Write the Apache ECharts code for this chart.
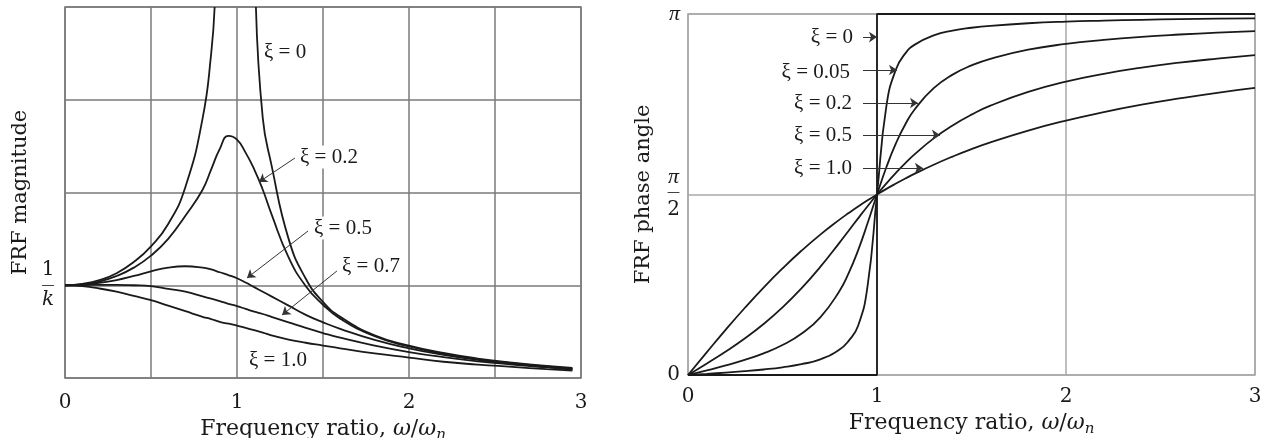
<!DOCTYPE html>
<html>
<head>
<meta charset="utf-8">
<script src="https://cdn.jsdelivr.net/npm/echarts@6/dist/echarts.min.js"></script>
<style>
  html, body { margin: 0; background: #fff; }
  #chart { width: 1272px; height: 438px; }
</style>
</head>
<body>
<div id="chart"></div>
<script>
// frequency ratio samples (omega / omega_n) for the magnitude plot
const ratioMag = [0, 0.1, 0.2, 0.3, 0.4, 0.5, 0.6, 0.7, 0.8, 0.85, 0.9, 0.95, 1.0, 1.05, 1.1, 1.15, 1.2, 1.3, 1.4, 1.5, 1.6, 1.8, 2.0, 2.2, 2.4, 2.6, 2.8, 2.95]
// |H| * k
const magZeta02 = [1, 1.01, 1.04, 1.1, 1.19, 1.32, 1.5, 1.75, 2.03, 2.25, 2.47, 2.61, 2.57, 2.43, 2.25, 2.03, 1.77, 1.3, 0.99, 0.79, 0.64, 0.45, 0.34, 0.26, 0.2, 0.16, 0.125, 0.1]
const magZeta05 = [1, 1.005, 1.025, 1.055, 1.1, 1.15, 1.19, 1.205, 1.19, 1.17, 1.14, 1.11, 1.075, 1.03, 0.98, 0.93, 0.88, 0.78, 0.68, 0.6, 0.53, 0.41, 0.32, 0.25, 0.195, 0.155, 0.12, 0.095]
const magZeta07 = [1, 1.002, 1.005, 1.005, 1.0, 0.99, 0.96, 0.93, 0.88, 0.855, 0.83, 0.8, 0.775, 0.745, 0.715, 0.69, 0.66, 0.6, 0.54, 0.485, 0.435, 0.35, 0.28, 0.225, 0.18, 0.145, 0.115, 0.09]
const magZeta1  = [1, 0.99, 0.965, 0.93, 0.885, 0.84, 0.78, 0.72, 0.66, 0.635, 0.605, 0.585, 0.565, 0.54, 0.515, 0.49, 0.46, 0.415, 0.38, 0.35, 0.32, 0.265, 0.22, 0.175, 0.145, 0.12, 0.095, 0.08]
// undamped curve: runs off the top either side of resonance (null = gap)
const ratioUndamped = [0, 0.1, 0.2, 0.3, 0.4, 0.5, 0.6, 0.7, 0.8, 0.85, 0.87, 1.0, 1.11, 1.15, 1.2, 1.3, 1.4, 1.5, 1.6, 1.8, 2.0, 2.2, 2.4, 2.6, 2.8, 2.95]
const magZeta0      = [1, 1.015, 1.055, 1.13, 1.25, 1.42, 1.66, 2.06, 2.8, 3.5, 4.0, null, 4.0, 2.8, 2.3, 1.5, 1.07, 0.82, 0.66, 0.46, 0.35, 0.27, 0.21, 0.165, 0.13, 0.11]

// frequency ratio samples for the phase plot
const ratioPhase = [0, 0.1, 0.2, 0.3, 0.4, 0.5, 0.6, 0.7, 0.8, 0.85, 0.9, 0.95, 1.0, 1.05, 1.1, 1.15, 1.2, 1.3, 1.4, 1.5, 1.6, 1.8, 2.0, 2.2, 2.4, 2.6, 2.8, 3.0]
// phase angle in radians
const phaseZeta005 = [0, 0.010, 0.021, 0.033, 0.048, 0.067, 0.094, 0.136, 0.219, 0.297, 0.428, 0.773, 1.571, 2.344, 2.659, 2.799, 2.875, 2.955, 2.997, 3.022, 3.039, 3.061, 3.075, 3.084, 3.091, 3.097, 3.101, 3.104]
const phaseZeta02  = [0, 0.040, 0.083, 0.131, 0.188, 0.261, 0.359, 0.502, 0.727, 0.886, 1.085, 1.320, 1.571, 1.810, 2.016, 2.182, 2.313, 2.496, 2.614, 2.694, 2.752, 2.831, 2.881, 2.916, 2.943, 2.963, 2.979, 2.993]
const phaseZeta05  = [0, 0.101, 0.205, 0.318, 0.444, 0.588, 0.753, 0.941, 1.148, 1.255, 1.363, 1.469, 1.571, 1.668, 1.759, 1.844, 1.922, 2.059, 2.172, 2.266, 2.344, 2.464, 2.554, 2.621, 2.675, 2.718, 2.753, 2.783]
const phaseZeta1   = [0, 0.199, 0.395, 0.583, 0.761, 0.927, 1.081, 1.222, 1.350, 1.409, 1.466, 1.520, 1.571, 1.620, 1.666, 1.710, 1.752, 1.830, 1.901, 1.966, 2.024, 2.127, 2.214, 2.288, 2.352, 2.407, 2.456, 2.498]
// undamped case: a step from 0 to pi at resonance
const phaseZeta0 = [[0, 0], [1, 0], [1, Math.PI], [3, Math.PI]]

const zip = (xs, ys) => xs.map((x, i) => [x, ys[i]])

const chart = echarts.init(document.getElementById('chart'))

const serif = '"Liberation Serif", serif'
const wide = '"DejaVu Serif", serif'
const ink = '#1a1a1a'

const curve = (grid, data, extra) => Object.assign({
  type: 'line',
  xAxisIndex: grid,
  yAxisIndex: grid,
  data: data,
  showSymbol: false,
  smooth: 0.5,
  lineStyle: { color: ink, width: 1.8 },
  silent: true,
}, extra || {})

const arrows = (pairs) => ({
  silent: true,
  symbol: ['none', 'arrow'],
  symbolSize: 8,
  label: { show: false },
  lineStyle: { color: '#333', width: 1, type: 'solid' },
  data: pairs.map(p => [{ coord: p[0] }, { coord: p[1] }]),
})

const nameRich = {
  i: { fontFamily: wide, fontStyle: 'italic', fontSize: 22, color: ink },
  s: { fontFamily: wide, fontStyle: 'italic', fontSize: 15, color: ink, padding: [13, 0, 0, 0] },
}
const xName = 'Frequency ratio, {i|ω}/{i|ω}{s|n}'

const eqLabel = (text, x, y, align) => ({
  type: 'text',
  x: x,
  y: y,
  z: 100,
  style: {
    text: text,
    font: '21px ' + serif,
    fill: ink,
    align: align,
    verticalAlign: 'middle',
    backgroundColor: '#fff',
    padding: [1, 2],
  },
})

chart.setOption({
  animation: false,
  backgroundColor: '#fff',
  grid: [
    { left: 65, top: 7, width: 516, height: 371, outerBoundsMode: 'none', containLabel: false, show: true, borderColor: '#7a7a7a', borderWidth: 1.5, backgroundColor: 'transparent' },
    { left: 688, top: 14, width: 567, height: 361, outerBoundsMode: 'none', containLabel: false, show: true, borderColor: '#a8a8a8', borderWidth: 1.5, backgroundColor: 'transparent' },
  ],
  xAxis: [
    {
      gridIndex: 0, type: 'value', min: 0, max: 3, interval: 0.5,
      axisLine: { show: false }, axisTick: { show: false },
      splitLine: { lineStyle: { color: '#7a7a7a', width: 1.5 } },
      axisLabel: {
        margin: 15, fontFamily: wide, fontSize: 20, color: ink,
        formatter: v => Number.isInteger(v) ? String(v) : '',
      },
      name: xName, nameLocation: 'middle', nameGap: 34,
      nameTextStyle: { fontFamily: wide, fontSize: 22, color: ink, rich: nameRich },
    },
    {
      gridIndex: 1, type: 'value', min: 0, max: 3, interval: 1,
      axisLine: { show: false }, axisTick: { show: false },
      splitLine: { lineStyle: { color: '#a8a8a8', width: 1.5 } },
      axisLabel: { margin: 12, fontFamily: wide, fontSize: 20, color: ink },
      name: xName, nameLocation: 'middle', nameGap: 34,
      nameTextStyle: { fontFamily: wide, fontSize: 22, color: ink, rich: nameRich },
    },
  ],
  yAxis: [
    {
      gridIndex: 0, type: 'value', min: 0, max: 4, interval: 1,
      axisLine: { show: false }, axisTick: { show: false },
      splitLine: { lineStyle: { color: '#7a7a7a', width: 1.5 } },
      axisLabel: {
        margin: 17, color: ink, align: 'center',
        formatter: v => v === 1 ? '{a|1}\n{b|—}\n{c|k}' : '',
        rich: {
          a: { fontFamily: wide, fontSize: 20, lineHeight: 20, color: ink, align: 'center' },
          b: { fontFamily: wide, fontSize: 13, lineHeight: 10, color: ink, align: 'center' },
          c: { fontFamily: wide, fontStyle: 'italic', fontSize: 20, lineHeight: 20, color: ink, align: 'center' },
        },
      },
      name: 'FRF magnitude', nameLocation: 'middle', nameRotate: 90, nameGap: 34,
      nameTextStyle: { fontFamily: wide, fontSize: 21, color: ink },
    },
    {
      gridIndex: 1, type: 'value', min: 0, max: Math.PI, interval: Math.PI / 2,
      axisLine: { show: false }, axisTick: { show: false },
      splitLine: { lineStyle: { color: '#a8a8a8', width: 1.5 } },
      axisLabel: {
        margin: 8, color: ink,
        formatter: v => {
          if (Math.abs(v) < 1e-6) return '{z|0}'
          if (Math.abs(v - Math.PI / 2) < 1e-3) return '{p|π}\n{b|—}\n{z|2}'
          if (Math.abs(v - Math.PI) < 1e-3) return '{p|π}'
          return ''
        },
        rich: {
          z: { fontFamily: wide, fontSize: 20, lineHeight: 24, color: ink, align: 'center' },
          p: { fontFamily: serif, fontStyle: 'italic', fontSize: 22, lineHeight: 20, color: ink, align: 'center' },
          b: { fontFamily: wide, fontSize: 13, lineHeight: 10, color: ink, align: 'center' },
        },
      },
      name: 'FRF phase angle', nameLocation: 'middle', nameRotate: 90, nameGap: 34,
      nameTextStyle: { fontFamily: wide, fontSize: 21, color: ink },
    },
  ],
  series: [
    curve(0, zip(ratioUndamped, magZeta0)),
    curve(0, zip(ratioMag, magZeta02), {
      markLine: arrows([[[1.337, 2.372], [1.128, 2.113]]]),
    }),
    curve(0, zip(ratioMag, magZeta05), {
      markLine: arrows([[[1.413, 1.585], [1.058, 1.078]]]),
    }),
    curve(0, zip(ratioMag, magZeta07), {
      markLine: arrows([[[1.581, 1.154], [1.262, 0.679]]]),
    }),
    curve(0, zip(ratioMag, magZeta1)),

    curve(1, phaseZeta0, {
      smooth: false,
      markLine: arrows([
        [[0.926, 2.941], [1.0, 2.941]],
        [[0.926, 2.654], [1.106, 2.654]],
        [[0.926, 2.367], [1.217, 2.367]],
        [[0.926, 2.089], [1.333, 2.089]],
        [[0.926, 1.801], [1.243, 1.801]],
      ]),
    }),
    curve(1, zip(ratioPhase, phaseZeta005)),
    curve(1, zip(ratioPhase, phaseZeta02)),
    curve(1, zip(ratioPhase, phaseZeta05)),
    curve(1, zip(ratioPhase, phaseZeta1)),
  ],
  graphic: [
    eqLabel('ξ = 0', 262, 52, 'left'),
    eqLabel('ξ = 0.2', 298, 157, 'left'),
    eqLabel('ξ = 0.5', 312, 228, 'left'),
    eqLabel('ξ = 0.7', 340, 266, 'left'),
    eqLabel('ξ = 1.0', 247, 360, 'left'),

    eqLabel('ξ = 0', 855, 37, 'right'),
    eqLabel('ξ = 0.05', 852, 72, 'right'),
    eqLabel('ξ = 0.2', 854, 103, 'right'),
    eqLabel('ξ = 0.5', 854, 135, 'right'),
    eqLabel('ξ = 1.0', 854, 168, 'right'),
  ],
})
</script>
</body>
</html>
